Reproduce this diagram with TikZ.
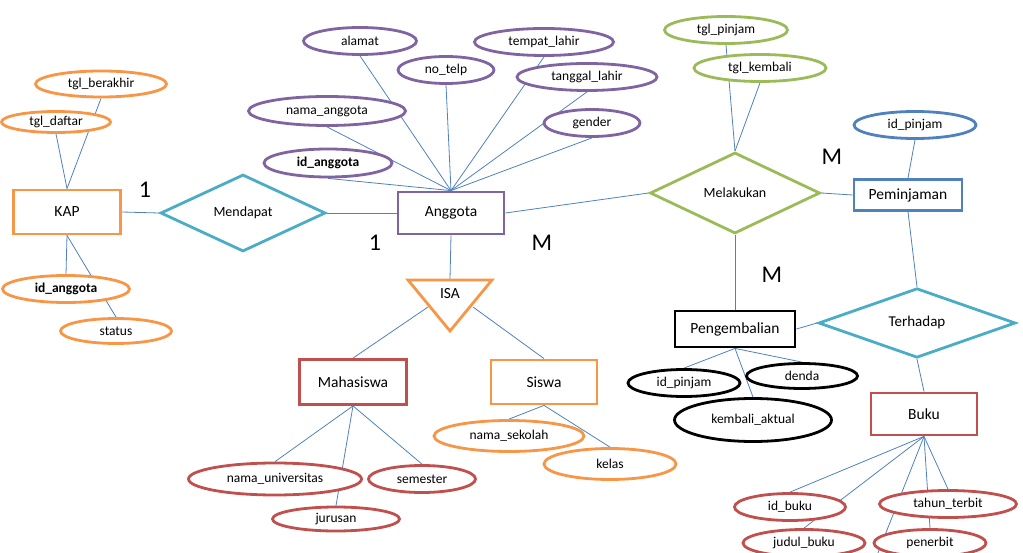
\documentclass[tikz,border=0pt]{standalone}
\usepackage{fontspec}
\setmainfont{Carlito}
\usetikzlibrary{shapes.geometric,backgrounds}
\definecolor{cOr}{HTML}{F79646}
\definecolor{cPu}{HTML}{8064A2}
\definecolor{cGr}{HTML}{9BBB59}
\definecolor{cCy}{HTML}{4BACC6}
\definecolor{cBl}{HTML}{4F81BD}
\definecolor{cRd}{HTML}{C0504D}
\definecolor{cLn}{HTML}{4F81BD}
\begin{document}
\begin{tikzpicture}[x=1pt,y=-1pt,
  attr/.style={ellipse, draw, line width=2.8pt, fill=white, inner sep=0pt, font=\fontsize{13.5}{15}\selectfont},
  ent/.style={rectangle, draw, line width=2.8pt, fill=white, inner sep=0pt, font=\fontsize{15.5}{18}\selectfont},
  rel/.style={diamond, draw, line width=2.8pt, fill=white, inner sep=0pt, font=\fontsize{14}{16}\selectfont},
  conn/.style={draw=cLn, line width=0.8pt},
  card/.style={inner sep=0pt, font=\fontsize{24}{28}\selectfont}]
\path[use as bounding box] (0,0) rectangle (1023,553);

% ---------- KAP ----------
\node[ent, draw=cOr, minimum width=107pt, minimum height=44pt] (kap) at (67,212) {KAP};
\node[attr, draw=cOr, minimum width=131pt, minimum height=26pt] (tglberakhir) at (101,84) {tgl\_berakhir};
\node[attr, draw=cOr, minimum width=109pt, minimum height=21pt] (tgldaftar) at (56,122) {tgl\_daftar};
\node[attr, draw=cOr, minimum width=127pt, minimum height=27pt, font=\fontsize{13.5}{15}\selectfont\bfseries] (idangk) at (66,289) {id\_anggota};
\node[attr, draw=cOr, minimum width=111pt, minimum height=25pt] (status) at (116,331) {status};

\node[rel, draw=cCy, minimum width=165pt, minimum height=77pt] (mendapat) at (243,213) {Mendapat};

% ---------- Anggota ----------
\node[ent, draw=cPu, minimum width=106pt, minimum height=42pt] (anggota) at (451,213) {Anggota};
\node[attr, draw=cPu, minimum width=113pt, minimum height=27pt] (alamat) at (360,41) {alamat};
\node[attr, draw=cPu, minimum width=96pt, minimum height=27pt] (notelp) at (446,70) {no\_telp};
\node[attr, draw=cPu, minimum width=139pt, minimum height=27pt] (tempat) at (544,42) {tempat\_lahir};
\node[attr, draw=cPu, minimum width=140pt, minimum height=27pt] (tanggal) at (587,77) {tanggal\_lahir};
\node[attr, draw=cPu, minimum width=96pt, minimum height=27pt] (gender) at (592,123) {gender};
\node[attr, draw=cPu, minimum width=157pt, minimum height=29pt] (nama) at (327,111) {nama\_anggota};
\node[attr, draw=cPu, minimum width=128pt, minimum height=28pt, font=\fontsize{13.5}{15}\selectfont\bfseries] (idang) at (328,163) {id\_anggota};

% ---------- Melakukan / Peminjaman ----------
\node[rel, draw=cGr, minimum width=170pt, minimum height=81pt] (melakukan) at (735,193) {Melakukan};
\node[attr, draw=cGr, minimum width=123pt, minimum height=27pt] (tglpinjam) at (726,30) {tgl\_pinjam};
\node[attr, draw=cGr, minimum width=132pt, minimum height=27pt] (tglkembali) at (760,68) {tgl\_kembali};
\node[ent, draw=cBl, minimum width=108pt, minimum height=31pt] (peminjaman) at (908,195) {Peminjaman};
\node[attr, draw=cBl, minimum width=122pt, minimum height=27pt] (idpinjam) at (915,125) {id\_pinjam};

% ---------- Pengembalian ----------
\node[ent, draw=black, minimum width=120pt, minimum height=36pt] (pengembalian) at (735,329) {Pengembalian};
\node[attr, draw=black, minimum width=112pt, minimum height=27pt] (idpinjamb) at (684,383) {id\_pinjam};
\node[attr, draw=black, minimum width=111pt, minimum height=25pt] (denda) at (802,376) {denda};
\node[attr, draw=black, minimum width=157pt, minimum height=43pt] (kembali) at (753,420) {kembali\_aktual};

\node[rel, draw=cCy, minimum width=197pt, minimum height=66pt, font=\fontsize{15}{17}\selectfont] (terhadap) at (917,323) {Terhadap};

% ---------- Buku ----------
\node[ent, draw=cRd, minimum width=106pt, minimum height=42pt] (buku) at (924,414) {Buku};
\node[attr, draw=cRd, minimum width=111pt, minimum height=27pt] (idbuku) at (790,507) {id\_buku};
\node[attr, draw=cRd, minimum width=122pt, minimum height=27pt] (judul) at (804,543) {judul\_buku};
\node[attr, draw=cRd, minimum width=137pt, minimum height=27pt] (tahun) at (948,504) {tahun\_terbit};
\node[attr, draw=cRd, minimum width=112pt, minimum height=27pt] (penerbit) at (930,543) {penerbit};
\coordinate (bukuoff) at (872,568);

% ---------- ISA ----------
\draw[draw=cOr, line width=2.8pt, fill=white, line join=miter] (408,280) -- (492,280) -- (450,331) -- cycle;
\node[inner sep=0pt, font=\fontsize{15.5}{18}\selectfont] (isa) at (450,294) {ISA};
\coordinate (isaT) at (450,279);
\coordinate (isaL) at (428,307);
\coordinate (isaR) at (473,307);

\node[ent, draw=cRd, minimum width=107pt, minimum height=45pt] (mhs) at (353,382) {Mahasiswa};
\node[ent, draw=cOr, minimum width=106pt, minimum height=44pt] (siswa) at (544,382) {Siswa};
\node[attr, draw=cRd, minimum width=173pt, minimum height=32pt] (univ) at (275,479) {nama\_universitas};
\node[attr, draw=cRd, minimum width=107pt, minimum height=27pt] (semester) at (422,479) {semester};
\node[attr, draw=cRd, minimum width=127pt, minimum height=24pt] (jurusan) at (336,519) {jurusan};
\node[attr, draw=cOr, minimum width=150pt, minimum height=31pt] (sekolah) at (509,436) {nama\_sekolah};
\node[attr, draw=cOr, minimum width=132pt, minimum height=31pt] (kelas) at (610,464) {kelas};

% ---------- cardinalities ----------
\node[card] (c1) at (145,190) {1};
\node[card] (c2) at (375,243) {1};
\node[card] (c3) at (542,243) {M};
\node[card] (c4) at (832,157) {M};
\node[card] (c5) at (772,275) {M};

% ---------- connectors ----------
\begin{pgfonlayer}{background}
\path[conn] (tgldaftar.south) -- (kap.north);
\path[conn] (tglberakhir.south) -- (kap.north);
\path[conn] (kap.south) -- (idangk.north);
\path[conn] (kap.south) -- (status.north);
\path[conn] (kap.east) -- (mendapat.west);
\path[conn] (mendapat.east) -- (anggota.west);
\foreach \a in {alamat,notelp,tempat,tanggal,gender,nama,idang}
  \path[conn] (\a.south) -- (anggota.north);
\path[conn] (anggota.east) -- (melakukan.west);
\path[conn] (tglpinjam.south) -- (melakukan.north);
\path[conn] (tglkembali.south) -- (melakukan.north);
\path[conn] (melakukan.east) -- (peminjaman.west);
\path[conn] (idpinjam.south) -- (peminjaman.north);
\path[conn] (melakukan.south) -- (pengembalian.north);
\path[conn] (peminjaman.south) -- (terhadap.north);
\path[conn] (pengembalian.east) -- (terhadap.west);
\path[conn] (terhadap.south) -- (buku.north);
\foreach \a in {idpinjamb,denda,kembali}
  \path[conn] (pengembalian.south) -- (\a.north);
\foreach \a in {idbuku,judul,tahun,penerbit}
  \path[conn] (buku.south) -- (\a.north);
\path[conn] (buku.south) -- (bukuoff);
\path[conn] (anggota.south) -- (isaT);
\path[conn] (isaL) -- (mhs.north);
\path[conn] (isaR) -- (siswa.north);
\foreach \a in {univ,semester,jurusan}
  \path[conn] (mhs.south) -- (\a.north);
\foreach \a in {sekolah,kelas}
  \path[conn] (siswa.south) -- (\a.north);
\end{pgfonlayer}
\end{tikzpicture}
\end{document}
